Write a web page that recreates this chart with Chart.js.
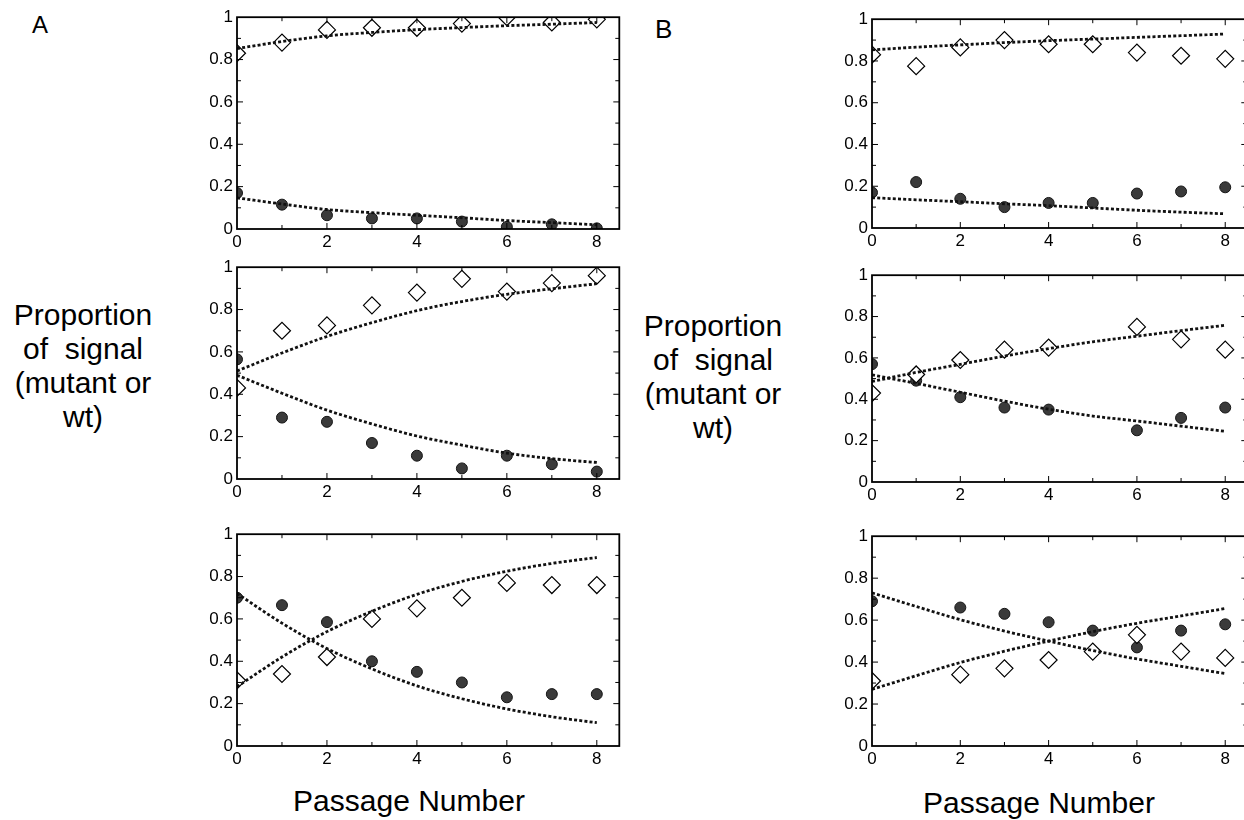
<!DOCTYPE html>
<html>
<head>
<meta charset="utf-8">
<script src="https://cdn.jsdelivr.net/npm/chart.js@4.4.1/dist/chart.umd.min.js"></script>
<style>
    html, body { margin: 0; padding: 0; background: #fff; width: 1244px; height: 820px; overflow: hidden; }
    body { position: relative; font-family: "Liberation Sans", Arial, sans-serif; color: #000; }
    canvas { position: absolute; }
    .txt { position: absolute; white-space: pre; }
    .ylab { font-size: 30px; line-height: 34px; text-align: center; width: 170px; }
    .xlab { font-size: 30px; line-height: 34px; text-align: center; width: 300px; }
</style>
</head>
<body>
<div class="txt" style="left:32px;top:13px;font-size:24px;line-height:24px;">A</div>
<div class="txt" style="left:655px;top:16px;font-size:26px;line-height:26px;">B</div>
<div class="txt ylab" style="left:-2px;top:298px;">Proportion
of  signal
(mutant or
wt)</div>
<div class="txt ylab" style="left:628px;top:309px;">Proportion
of  signal
(mutant or
wt)</div>
<div class="txt xlab" style="left:259px;top:784px;">Passage Number</div>
<div class="txt xlab" style="left:889px;top:786px;">Passage Number</div>

<canvas id="chartA1"></canvas>
<canvas id="chartA2"></canvas>
<canvas id="chartA3"></canvas>
<canvas id="chartB1"></canvas>
<canvas id="chartB2"></canvas>
<canvas id="chartB3"></canvas>

<script>
// ========== 数据 ==========
const passages = [0, 1, 2, 3, 4, 5, 6, 7, 8];
const xTicks = [0, 2, 4, 6, 8];
const xMinorTicks = [1, 2, 3, 4, 5, 6, 7, 8];
const yTicks = [0, 0.2, 0.4, 0.6, 0.8, 1];
const yMinorTicks = [0.1, 0.2, 0.3, 0.4, 0.5, 0.6, 0.7, 0.8, 0.9];

// A 上
const a1Open   = [0.83, 0.88, 0.94, 0.95, 0.95, 0.97, 1.0, 0.975, 0.99];
const a1Filled = [0.17, 0.115, 0.065, 0.05, 0.05, 0.035, 0.01, 0.022, 0.003];
const a1FitUp   = [0.852, 0.885, 0.912, 0.928, 0.941, 0.951, 0.96, 0.967, 0.975];
const a1FitDown = [0.147, 0.118, 0.092, 0.077, 0.065, 0.053, 0.04, 0.03, 0.02];

// A 中
const a2Open   = [0.43, 0.70, 0.725, 0.82, 0.88, 0.945, 0.885, 0.925, 0.96];
const a2Filled = [0.565, 0.29, 0.27, 0.17, 0.11, 0.05, 0.11, 0.07, 0.035];
const a2FitUp   = [0.51, 0.595, 0.673, 0.738, 0.795, 0.838, 0.872, 0.898, 0.922];
const a2FitDown = [0.49, 0.405, 0.325, 0.26, 0.203, 0.16, 0.122, 0.096, 0.078];

// A 下
const a3Open   = [0.31, 0.34, 0.42, 0.60, 0.65, 0.70, 0.77, 0.76, 0.76];
const a3Filled = [0.70, 0.665, 0.585, 0.40, 0.35, 0.30, 0.23, 0.245, 0.245];
const a3FitUp   = [0.28, 0.42, 0.54, 0.636, 0.716, 0.777, 0.825, 0.862, 0.89];
const a3FitDown = [0.72, 0.58, 0.46, 0.364, 0.284, 0.223, 0.175, 0.138, 0.11];

// B 上
const b1Open   = [0.83, 0.775, 0.865, 0.90, 0.88, 0.88, 0.84, 0.825, 0.81];
const b1Filled = [0.17, 0.22, 0.14, 0.10, 0.12, 0.12, 0.165, 0.175, 0.195];
const b1FitUp   = [0.853, 0.866, 0.877, 0.888, 0.897, 0.905, 0.913, 0.921, 0.929];
const b1FitDown = [0.145, 0.135, 0.126, 0.116, 0.107, 0.096, 0.085, 0.076, 0.068];

// B 中 (第5代无数据)
const b2Open   = [0.43, 0.52, 0.59, 0.64, 0.65, null, 0.75, 0.69, 0.64];
const b2Filled = [0.57, 0.49, 0.41, 0.36, 0.35, null, 0.25, 0.31, 0.36];
const b2FitUp   = [0.486, 0.53, 0.569, 0.609, 0.645, 0.678, 0.705, 0.732, 0.758];
const b2FitDown = [0.518, 0.477, 0.434, 0.391, 0.352, 0.319, 0.295, 0.27, 0.245];

// B 下 (第1代无数据)
const b3Open   = [0.31, null, 0.34, 0.37, 0.41, 0.45, 0.53, 0.45, 0.42];
const b3Filled = [0.69, null, 0.66, 0.63, 0.59, 0.55, 0.47, 0.55, 0.58];
const b3FitUp   = [0.27, 0.335, 0.398, 0.452, 0.5, 0.545, 0.585, 0.62, 0.655];
const b3FitDown = [0.73, 0.665, 0.602, 0.548, 0.5, 0.455, 0.415, 0.38, 0.345];

// ========== 布局 ==========
const Y_AXIS_W = 36;
const X_AXIS_H = 26;
const PAD_TOP = 12;
const PAD_RIGHT = 8;
const X_MAX = 8.5;

function toPoints(values) {
    return passages
        .map((x, i) => ({ x: x, y: values[i] }))
        .filter(p => p.y !== null);
}

// 边框 + 向内刻度
const framePlugin = {
    id: 'frame',
    afterDraw(chart) {
        const { ctx, chartArea: a, scales } = chart;
        const x = scales.x, y = scales.y;
        ctx.save();
        ctx.strokeStyle = '#000';
        ctx.lineWidth = 1;
        ctx.beginPath();
        xMinorTicks.forEach(v => {
            const px = x.getPixelForValue(v);
            const len = xTicks.includes(v) ? 6 : 4;
            ctx.moveTo(px, a.bottom); ctx.lineTo(px, a.bottom - len);
            ctx.moveTo(px, a.top); ctx.lineTo(px, a.top + len);
        });
        yMinorTicks.forEach(v => {
            const py = y.getPixelForValue(v);
            const len = yTicks.some(t => Math.abs(t - v) < 1e-9) ? 6 : 4;
            ctx.moveTo(a.left, py); ctx.lineTo(a.left + len, py);
            ctx.moveTo(a.right, py); ctx.lineTo(a.right - len, py);
        });
        ctx.stroke();
        ctx.lineWidth = 1.8;
        ctx.strokeRect(a.left, a.top, a.right - a.left, a.bottom - a.top);
        ctx.restore();
    }
};

function fitDataset(values) {
    return {
        data: toPoints(values),
        showLine: true,
        borderColor: '#111',
        borderWidth: 2.8,
        borderDash: [3, 2.2],
        pointRadius: 0,
        tension: 0.4,
        cubicInterpolationMode: 'monotone',
        clip: 0
    };
}

function initPanel(id, area, open, filled, fitUp, fitDown) {
    const canvas = document.getElementById(id);
    const plotW = area.right - area.left;
    const plotH = area.bottom - area.top;
    canvas.width = Y_AXIS_W + plotW + PAD_RIGHT;
    canvas.height = PAD_TOP + plotH + X_AXIS_H;
    canvas.style.left = (area.left - Y_AXIS_W) + 'px';
    canvas.style.top = (area.top - PAD_TOP) + 'px';

    return new Chart(canvas.getContext('2d'), {
        type: 'scatter',
        data: {
            datasets: [
                fitDataset(fitUp),
                fitDataset(fitDown),
                {
                    data: toPoints(open),
                    pointStyle: 'rectRot',
                    pointRadius: 8.5,
                    backgroundColor: '#fff',
                    borderColor: '#000',
                    borderWidth: 1.2,
                    clip: 0
                },
                {
                    data: toPoints(filled),
                    pointStyle: 'circle',
                    pointRadius: 5.5,
                    backgroundColor: '#3a3a3a',
                    borderColor: '#151515',
                    borderWidth: 1,
                    clip: 0
                }
            ]
        },
        options: {
            responsive: false,
            animation: false,
            layout: { padding: { top: PAD_TOP, right: PAD_RIGHT, left: 0, bottom: 0 } },
            plugins: { legend: { display: false }, tooltip: { enabled: false } },
            scales: {
                x: {
                    type: 'linear',
                    min: 0,
                    max: X_MAX,
                    grid: { display: false, drawTicks: false },
                    border: { display: false },
                    afterBuildTicks: s => { s.ticks = xTicks.map(v => ({ value: v })); },
                    afterFit: s => { s.height = X_AXIS_H; },
                    ticks: {
                        padding: 3,
                        color: '#000',
                        maxRotation: 0,
                        callback: v => String(v),
                        font: { family: 'Liberation Sans', size: 17 }
                    }
                },
                y: {
                    min: 0,
                    max: 1,
                    grid: { display: false, drawTicks: false },
                    border: { display: false },
                    afterBuildTicks: s => { s.ticks = yTicks.map(v => ({ value: v })); },
                    afterFit: s => { s.width = Y_AXIS_W; },
                    ticks: {
                        padding: 4,
                        color: '#000',
                        callback: v => String(v),
                        font: { family: 'Liberation Sans', size: 17 }
                    }
                }
            }
        },
        plugins: [framePlugin]
    });
}

const aUnit = 45.25, bUnit = 44.4;
initPanel('chartA1', { left: 237, top: 15,  right: 237 + X_MAX * aUnit, bottom: 229 }, a1Open, a1Filled, a1FitUp, a1FitDown);
initPanel('chartA2', { left: 237, top: 265, right: 237 + X_MAX * aUnit, bottom: 479 }, a2Open, a2Filled, a2FitUp, a2FitDown);
initPanel('chartA3', { left: 237, top: 532, right: 237 + X_MAX * aUnit, bottom: 746 }, a3Open, a3Filled, a3FitUp, a3FitDown);
initPanel('chartB1', { left: 872, top: 17,  right: 872 + X_MAX * bUnit, bottom: 228 }, b1Open, b1Filled, b1FitUp, b1FitDown);
initPanel('chartB2', { left: 872, top: 273, right: 872 + X_MAX * bUnit, bottom: 482 }, b2Open, b2Filled, b2FitUp, b2FitDown);
initPanel('chartB3', { left: 872, top: 534, right: 872 + X_MAX * bUnit, bottom: 746 }, b3Open, b3Filled, b3FitUp, b3FitDown);
</script>
</body>
</html>
